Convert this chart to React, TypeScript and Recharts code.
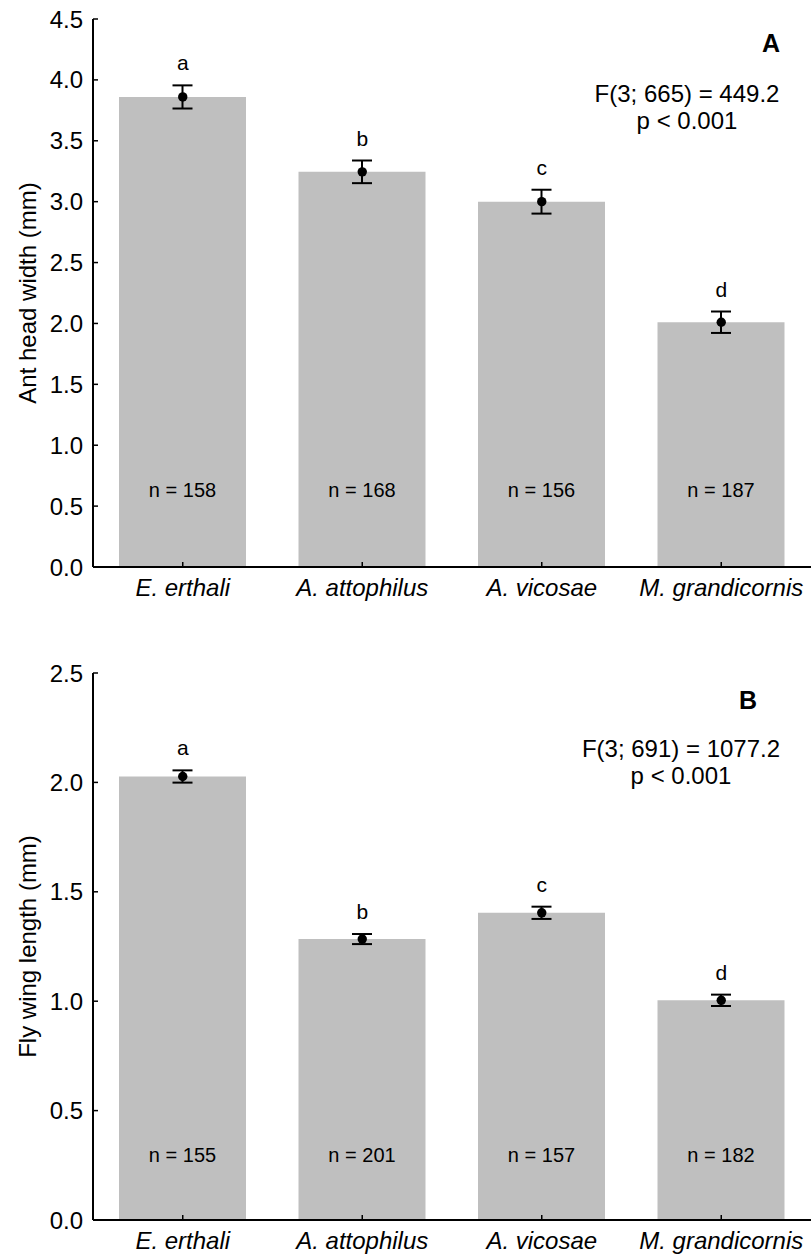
import {
  Bar,
  ComposedChart,
  ErrorBar,
  LabelList,
  Line,
  XAxis,
  YAxis,
} from "recharts";

const categories = ["E. erthali", "A. attophilus", "A. vicosae", "M. grandicornis"];
const groupLetters = ["a", "b", "c", "d"];

const headMeans = [3.86, 3.245, 3.0, 2.01];
const headErr = [0.095, 0.093, 0.098, 0.088];
const headN = [158, 168, 156, 187];
const headTicks = [0, 0.5, 1, 1.5, 2, 2.5, 3, 3.5, 4, 4.5];

const wingMeans = [2.027, 1.284, 1.404, 1.004];
const wingErr = [0.028, 0.023, 0.028, 0.026];
const wingN = [155, 201, 157, 182];
const wingTicks = [0, 0.5, 1, 1.5, 2, 2.5];

const FONT = "'Liberation Sans', Arial, sans-serif";
const BAR_FILL = "#bfbfbf";

function buildRows(means: number[], errs: number[], ns: number[]) {
  return categories.map((name, i) => ({
    name,
    mean: means[i],
    err: errs[i],
    upper: means[i] + errs[i],
    letter: groupLetters[i],
    n: `n = ${ns[i]}`,
  }));
}

type PanelProps = {
  rows: ReturnType<typeof buildRows>;
  ticks: number[];
  yLabel: string;
  height: number;
  top: number;
  xAxisHeight: number;
  nOffset: number;
  panel: string;
  panelPos: [number, number];
  stat: string;
  statPos: [number, number];
};

function Panel(p: PanelProps) {
  const max = p.ticks[p.ticks.length - 1];
  return (
    <ComposedChart
      width={812}
      height={p.height}
      data={p.rows}
      margin={{ top: p.top, right: 1, left: 0, bottom: 0 }}
      style={{ fontFamily: FONT }}
    >
      <XAxis
        dataKey="name"
        height={p.xAxisHeight}
        axisLine={{ stroke: "#000", strokeWidth: 2 }}
        tickLine={{ stroke: "#000", strokeWidth: 1.5 }}
        tickSize={-5}
        tickMargin={17}
        tick={{ fill: "#000", fontSize: 24, fontStyle: "italic", fontFamily: FONT }}
      />
      <XAxis
        xAxisId="top"
        dataKey="name"
        orientation="top"
        height={0}
        tick={false}
        tickLine={false}
        axisLine={{ stroke: "#000", strokeWidth: 2 }}
      />
      <YAxis
        width={93}
        domain={[0, max]}
        ticks={p.ticks}
        tickFormatter={(v: number) => v.toFixed(1)}
        axisLine={{ stroke: "#000", strokeWidth: 2 }}
        tickLine={{ stroke: "#000", strokeWidth: 1.5 }}
        tickSize={-5}
        tickMargin={15}
        tick={{ fill: "#000", fontSize: 24, fontFamily: FONT }}
        label={{
          content: (props: any) => {
            const vb = props.viewBox || { x: 0, y: 0, height: 0 };
            const cx = vb.x + 27;
            const cy = vb.y + vb.height / 2;
            return (
              <text
                x={cx}
                y={cy}
                transform={`rotate(-90, ${cx}, ${cy})`}
                textAnchor="middle"
                dominantBaseline="central"
                fontSize={24}
                fontFamily={FONT}
                fill="#000"
              >
                {p.yLabel}
              </text>
            );
          },
        }}
      />
      <YAxis
        yAxisId="right"
        orientation="right"
        width={0}
        type="number"
        domain={[0, max]}
        tick={false}
        tickLine={false}
        axisLine={{ stroke: "#000", strokeWidth: 2 }}
      />
      <Bar dataKey="mean" fill={BAR_FILL} barSize={127} isAnimationActive={false}>
        <ErrorBar dataKey="err" width={10} stroke="#000" strokeWidth={2} />
        <LabelList
          dataKey="n"
          content={(props: any) => (
            <text
              x={props.x + props.width / 2}
              y={props.y + props.height - p.nOffset}
              textAnchor="middle"
              dominantBaseline="central"
              fontSize={20}
              fontFamily={FONT}
              fill="#000"
            >
              {props.value}
            </text>
          )}
        />
      </Bar>
      <Line
        dataKey="mean"
        stroke="none"
        dot={{ r: 4.7, fill: "#000", stroke: "#000", strokeWidth: 0 }}
        activeDot={false}
        isAnimationActive={false}
      />
      <Line
        dataKey="upper"
        stroke="none"
        dot={false}
        activeDot={false}
        isAnimationActive={false}
      >
        <LabelList
          dataKey="letter"
          content={(props: any) => (
            <text
              x={props.x}
              y={props.y - 15}
              textAnchor="middle"
              fontSize={21}
              fontFamily={FONT}
              fill="#000"
            >
              {props.value}
            </text>
          )}
        />
      </Line>
      <text
        x={p.panelPos[0]}
        y={p.panelPos[1]}
        textAnchor="middle"
        dominantBaseline="central"
        fontSize={25}
        fontWeight="bold"
        fontFamily={FONT}
        fill="#000"
      >
        {p.panel}
      </text>
      <text
        x={p.statPos[0]}
        y={p.statPos[1]}
        textAnchor="middle"
        dominantBaseline="central"
        fontSize={24}
        fontFamily={FONT}
        fill="#000"
      >
        {p.stat}
      </text>
      <text
        x={p.statPos[0]}
        y={p.statPos[1] + 27}
        textAnchor="middle"
        dominantBaseline="central"
        fontSize={24}
        fontFamily={FONT}
        fill="#000"
      >
        p &lt; 0.001
      </text>
    </ComposedChart>
  );
}

export default function App() {
  return (
    <div style={{ position: "absolute", left: 0, top: 0, width: 812, height: 1258, background: "#fff" }}>
      <Panel
        rows={buildRows(headMeans, headErr, headN)}
        ticks={headTicks}
        yLabel="Ant head width (mm)"
        height={640}
        top={19}
        xAxisHeight={73}
        nOffset={77}
        panel="A"
        panelPos={[771, 43]}
        stat="F(3; 665) = 449.2"
        statPos={[687, 93]}
      />
      <Panel
        rows={buildRows(wingMeans, wingErr, wingN)}
        ticks={wingTicks}
        yLabel="Fly wing length (mm)"
        height={618}
        top={33}
        xAxisHeight={38}
        nOffset={65}
        panel="B"
        panelPos={[748, 60]}
        stat="F(3; 691) = 1077.2"
        statPos={[681, 108]}
      />
    </div>
  );
}
